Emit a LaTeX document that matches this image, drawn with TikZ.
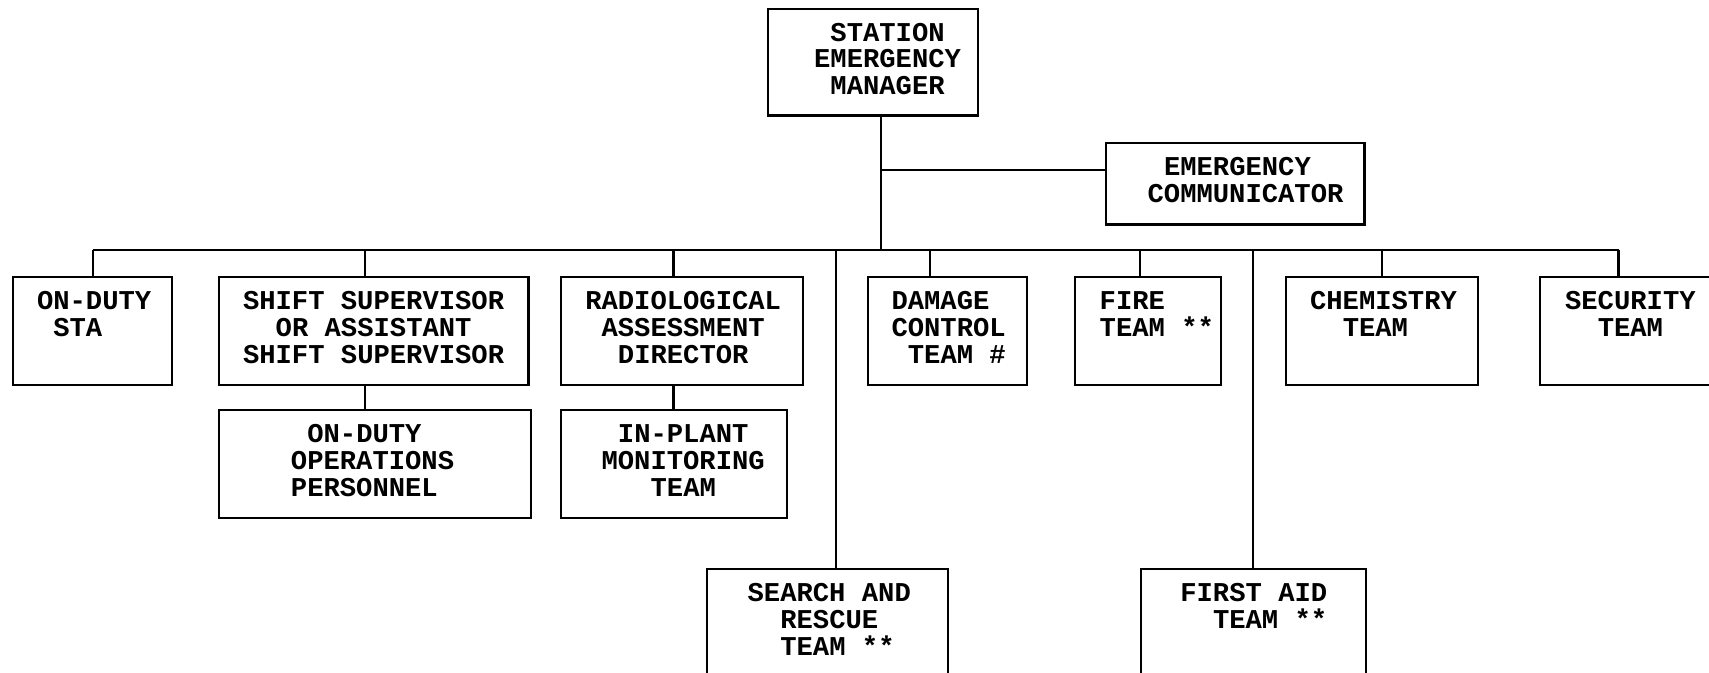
\documentclass[tikz,border=0pt]{standalone}
\usepackage{fontspec}
\newfontfamily\typewriter{Liberation Mono}
\usetikzlibrary{positioning}
\tikzset{
  unit/.style = {draw, line width=1.1pt, rectangle, anchor=north west, inner xsep=0pt,
                 inner ysep=0pt, align=left, minimum height=1.98cm,
                 font=\typewriter\bfseries\fontsize{14.2}{13.95}\selectfont,
                 execute at end node={\par\kern0.12cm}},
  lead/.style = {execute at begin node={\leftskip=#1\spaceskip=0.3cm\relax}},
  link/.style = {line width=1.1pt}
}

\begin{document}
\begin{tikzpicture}[x=0.02cm, y=-0.02cm]
\useasboundingbox (0,0) rectangle (1568,617);
% top of the chart
\node[unit, lead=0.84cm, text width=3.84cm, minimum height=1.96cm] (sem) at (704,7) {~STATION\\EMERGENCY\\~MANAGER};
\node[unit, lead=0.76cm, text width=4.74cm, minimum height=1.50cm] (ec) at (1014,130) {~EMERGENCY\\COMMUNICATOR};
% first row
\node[unit, lead=0.44cm, text width=2.92cm] (sta) at (11,253) {ON-DUTY\\~STA\\\mbox{}};
\node[unit, lead=0.44cm, text width=5.68cm] (shift) at (200,253) {SHIFT SUPERVISOR\\~~OR ASSISTANT\\SHIFT SUPERVISOR};
\node[unit, lead=0.44cm, text width=4.44cm] (rad) at (514,253) {RADIOLOGICAL\\~ASSESSMENT\\~~DIRECTOR};
\node[unit, lead=0.44cm, text width=2.92cm] (dmg) at (795,253) {DAMAGE\\CONTROL\\~TEAM \#};
\node[unit, lead=0.46cm, text width=2.68cm] (fire) at (985,253) {FIRE\\TEAM **\\\mbox{}};
\node[unit, lead=0.44cm, text width=3.52cm] (chem) at (1179,253) {CHEMISTRY\\~~TEAM\\\mbox{}};
\node[unit, lead=0.46cm, text width=4.00cm] (sec) at (1412,253) {SECURITY\\~~TEAM\\\mbox{}};
% second row
\node[unit, lead=1.32cm, text width=5.72cm] (ops) at (200,375) {~ON-DUTY\\OPERATIONS\\PERSONNEL};
\node[unit, lead=0.74cm, text width=4.14cm] (mon) at (514,375) {~IN-PLANT\\MONITORING\\~~~TEAM};
% bottom row
\node[unit, lead=0.74cm, text width=4.42cm] (sar) at (648,521) {SEARCH AND\\~~RESCUE\\~~TEAM **};
\node[unit, lead=0.72cm, text width=4.12cm] (aid) at (1046,521) {FIRST AID\\~~TEAM **\\\mbox{}};

% connectors
\coordinate (hub) at (808,229);
\coordinate (tap) at (808,156);
\draw[link] (sem.south -| hub) -- (hub);
\draw[link] (tap) -- (tap -| ec.west);
\draw[link] (sta.north |- hub) -- ([xshift=-0.56cm]sec.north |- hub);
\foreach \n/\dx in {sta/0, shift/-8, rad/-8, dmg/-16, fire/-7, chem/0, sec/-28, sar/7.5, aid/0}
  \draw[link] ([xshift=\dx*0.02cm]\n.north) -- ([xshift=\dx*0.02cm]\n.north |- hub);
\draw[link] ([xshift=-0.16cm]shift.south) -- ([xshift=-0.16cm]shift.south |- ops.north);
\draw[link] ([xshift=-0.16cm]rad.south) -- ([xshift=-0.16cm]rad.south |- mon.north);
\end{tikzpicture}
\end{document}
